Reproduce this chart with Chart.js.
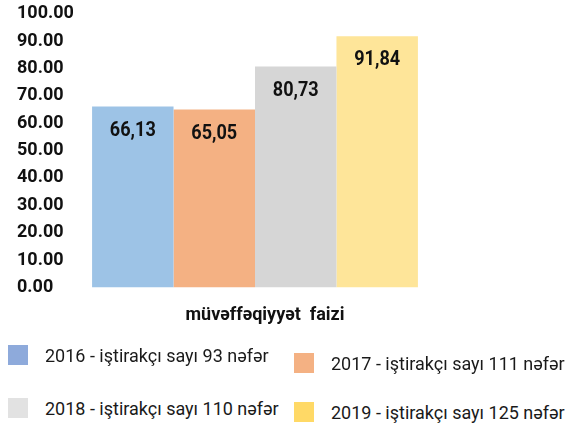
<!DOCTYPE html>
<html>
<head>
<meta charset="utf-8">
<script src="https://cdn.jsdelivr.net/npm/chart.js@4.4.1/dist/chart.umd.min.js"></script>
<style>
  body { margin: 0; background: #fff; }
  #wrap { position: relative; width: 570px; height: 424px; overflow: hidden; }
  #chart { position: absolute; left: 0; top: 0; }
  .leg { position: absolute; display: flex; align-items: center; height: 20px;
         font-family: Roboto, sans-serif; font-size: 18px;
         color: #1a1a1a; white-space: nowrap; }
  .leg .box { width: 20px; height: 20px; margin-right: 17px; flex: none; }
</style>
</head>
<body>
<div id="wrap">
  <canvas id="chart" width="570" height="351"></canvas>
  <div id="legend"></div>
</div>
<script>
const categories = ['müvəffəqiyyət  faizi'];
const years = ['2016', '2017', '2018', '2019'];
const participants = [93, 111, 110, 125];
const successRates = [66.13, 65.05, 80.73, 91.84];
const yTickStep = 10;

const barColors = ['#9dc3e6', '#f4b183', '#d6d6d6', '#fee599'];
const legendColors = ['#8eaadb', '#f4b183', '#e2e2e2', '#ffd966'];
const legendPos = [[8, 345], [294, 353], [8, 398], [294, 402]];

// draws the value inside each bar, near its top (squeezed to look condensed)
const barValues = {
  id: 'barValues',
  afterDatasetsDraw(chart) {
    const ctx = chart.ctx;
    ctx.save();
    ctx.font = 'bold 21px Roboto, sans-serif';
    ctx.fillStyle = '#111';
    ctx.textAlign = 'center';
    ctx.textBaseline = 'middle';
    chart.data.datasets.forEach((ds, i) => {
      chart.getDatasetMeta(i).data.forEach((bar, j) => {
        ctx.save();
        ctx.translate(bar.x, bar.y + 24);
        ctx.scale(0.86, 1);
        ctx.fillText(ds.data[j].toFixed(2).replace('.', ','), 0, 0);
        ctx.restore();
      });
    });
    ctx.restore();
  }
};

const chart = new Chart(document.getElementById('chart'), {
  type: 'bar',
  data: {
    labels: categories,
    datasets: years.map((y, i) => ({
      label: `${y} - iştirakçı sayı ${participants[i]} nəfər`,
      data: [successRates[i]],
      backgroundColor: barColors[i],
      borderWidth: 0
    }))
  },
  options: {
    responsive: false,
    animation: false,
    layout: { padding: { left: 17, top: 13, right: 140, bottom: 8 } },
    datasets: { bar: { categoryPercentage: 0.931, barPercentage: 1 } },
    plugins: { legend: { display: false }, tooltip: { enabled: false } },
    scales: {
      x: {
        grid: { display: false, drawTicks: false },
        border: { display: false },
        ticks: { color: '#111', font: { family: 'Roboto', size: 18, weight: 'bold' }, padding: 17, labelOffset: 10 }
      },
      y: {
        min: 0,
        max: 100,
        grid: { display: false, drawTicks: false },
        border: { display: false },
        ticks: {
          stepSize: yTickStep,
          autoSkip: false,
          crossAlign: 'far',
          color: '#111',
          font: { family: 'Roboto', size: 18, weight: 'bold' },
          callback: v => v.toFixed(2)
        },
        afterFit(scale) { scale.width = 63; }
      }
    }
  },
  plugins: [barValues]
});

// html legend built from the chart's datasets
const legend = document.getElementById('legend');
chart.data.datasets.forEach((ds, i) => {
  const item = document.createElement('div');
  item.className = 'leg';
  item.style.left = legendPos[i][0] + 'px';
  item.style.top = legendPos[i][1] + 'px';
  item.innerHTML = `<span class="box" style="background:${legendColors[i]}"></span><span>${ds.label}</span>`;
  legend.appendChild(item);
});
</script>
</body>
</html>
